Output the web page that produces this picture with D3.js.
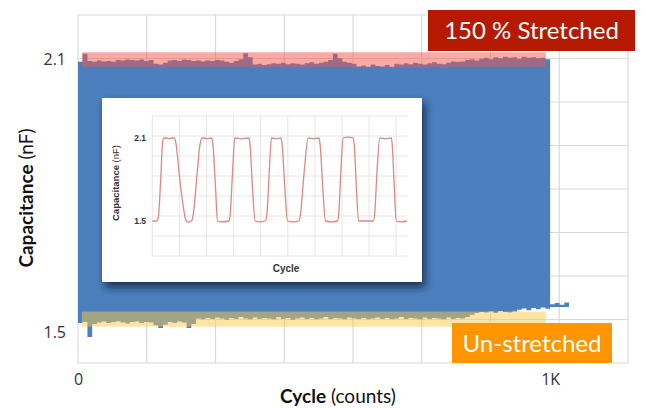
<!DOCTYPE html>
<html><head><meta charset="utf-8">
<script src="https://cdn.jsdelivr.net/npm/d3@7"></script>
<style>body{margin:0;background:#fff;} svg{display:block}</style>
</head><body>
<svg id="chart" width="646" height="408"></svg>
<script>
// ---------- DATA ----------
// Envelope of the rapidly oscillating capacitance signal, sampled every 10 cycles
const cycleStep = 10;
const upperEnvelope = [
 2.094,2.112,2.096,2.094,2.097,2.095,2.096,2.094,2.098,2.097,
 2.099,2.098,2.097,2.099,2.096,2.098,2.090,2.088,2.092,2.097,
 2.098,2.096,2.099,2.098,2.096,2.097,2.095,2.097,2.096,2.098,
 2.097,2.094,2.092,2.096,2.100,2.113,2.104,2.088,2.090,2.087,
 2.089,2.091,2.090,2.092,2.089,2.091,2.090,2.088,2.091,2.093,
 2.090,2.092,2.094,2.098,2.112,2.102,2.094,2.092,2.090,2.084,
 2.086,2.083,2.088,2.085,2.084,2.087,2.083,2.090,2.088,2.091,
 2.089,2.092,2.090,2.088,2.091,2.093,2.090,2.089,2.092,2.095,
 2.094,2.095,2.098,2.100,2.097,2.101,2.103,2.100,2.104,2.102,
 2.105,2.103,2.104,2.101,2.105,2.103,2.104,2.102,2.103,2.100,
 1.561,1.564,1.560,1.565,1.561
];
const lowerEnvelope = [
 1.520,1.522,1.489,1.518,1.521,1.523,1.520,1.522,1.524,1.521,
 1.519,1.522,1.523,1.520,1.522,1.521,1.515,1.509,1.516,1.522,
 1.520,1.523,1.521,1.509,1.518,
 1.530,1.528,1.531,1.529,1.532,1.530,1.527,1.531,1.529,1.533,
 1.530,1.528,1.532,1.529,1.531,1.530,1.528,1.533,1.529,1.531,
 1.527,1.530,1.532,1.529,1.531,1.528,1.530,1.533,1.529,1.531,
 1.530,1.528,1.532,1.530,1.529,1.531,1.528,1.530,1.532,1.529,
 1.531,1.528,1.530,1.533,1.529,1.531,1.530,1.528,1.532,1.529,
 1.531,1.530,1.528,1.532,1.529,1.531,1.530,1.533,1.538,
 1.542,1.544,1.543,1.545,1.542,1.546,1.544,1.543,1.545,
 1.549,1.552,1.548,1.553,1.550,1.554,1.551,
 1.555,1.555,1.555,1.555,1.555
];
// highlighted bands
const bandNames = ["150 % Stretched", "Un-stretched"];
const bandStart = [8, 8];
const bandEnd = [991, 991];
const bandLow = [2.082, 1.512];
const bandHigh = [2.115, 1.545];
// main axis ticks
const yTickValues = [1.5, 2.1];
const yTickLabels = ["1.5", "2.1"];
const xTickValues = [0, 1000];
const xTickLabels = ["0", "1K"];
// inset: a few stretch cycles
const insetTime = [0,1.7,2.3,3.3,4.0,4.5,5.6,6.5,7.6,8.6,9.2,10.8,12.2,13.1,14.1,15.4,16.1,17.4,18.7,19.6,
 20.7,21.4,23.3,23.8,24.8,25.6,27.2,30.1,30.6,31.5,32.4,35,37.9,38.4,39.3,40.4,42.2,44.4,45,45.9,
 46.8,48.8,50.5,51,52,53.1,55.3,57.5,58.2,59.6,61.2,63.1,65.4,65.9,66.9,68,70.3,72.7,73.2,74,
 74.9,76.9,78.8,79.3,80.1,81,84,86.7,87.3,88.2,89.3,91.5,93.9,94.2,95,95.8,97.8,100];
const insetCap = [1.5,1.5,1.52,1.8,2.06,2.1,2.1,2.094,2.1,2.1,2.07,1.8,1.6,1.51,1.492,1.5,1.55,1.8,2.05,2.1,
 2.1,2.094,2.1,2.05,1.75,1.5,1.494,1.5,1.55,1.85,2.1,2.094,2.1,2.05,1.75,1.5,1.494,1.5,1.55,1.85,
 2.1,2.094,2.1,2.05,1.75,1.5,1.494,1.5,1.55,1.85,2.1,2.094,2.1,2.05,1.75,1.5,1.494,1.5,1.55,1.85,
 2.1,2.106,2.1,2.05,1.75,1.5,1.5,1.5,1.55,1.85,2.1,2.094,2.1,2.05,1.75,1.5,1.494,1.5];
const insetTickValues = [1.5, 2.1];
const insetTickLabels = ["1.5", "2.1"];

// ---------- DRAW ----------
const svg = d3.select("#chart");
const defs = svg.append("defs");
const f = defs.append("filter").attr("id","sh").attr("x","-20%").attr("y","-20%").attr("width","150%").attr("height","150%");
f.append("feDropShadow").attr("dx",3).attr("dy",5).attr("stdDeviation",4.5)
 .attr("flood-color","#0b1a3a").attr("flood-opacity",0.85);

const x = d3.scaleLinear().domain([0, 1165]).range([78, 628]);
const y = d3.scaleLinear().domain([1.432, 2.197]).range([363, 15]);
const [xLeft, xRight] = x.range(), [yBottom, yTop] = y.range();
const gridFr = d3.range(9).map(k => k / 8);

const grid = svg.append("g").attr("stroke", "#dadada").attr("stroke-width", 1.2);
grid.selectAll(".gv").data(gridFr).join("line")
  .attr("x1", d => xLeft + (xRight - xLeft) * d).attr("x2", d => xLeft + (xRight - xLeft) * d)
  .attr("y1", yTop).attr("y2", yBottom);
grid.selectAll(".gh").data(gridFr).join("line")
  .attr("y1", d => yTop + (yBottom - yTop) * d).attr("y2", d => yTop + (yBottom - yTop) * d)
  .attr("x1", xLeft).attr("x2", xRight);

const area = d3.area()
  .x((d, i) => x(i * cycleStep))
  .y0((d, i) => y(lowerEnvelope[i]))
  .y1(d => y(d))
  .curve(d3.curveStepAfter);
svg.append("path").datum(upperEnvelope).attr("d", area).attr("fill", "#4c7fbd");

const bandColors = ["#f5554b", "#f9c94b"];
svg.append("g").selectAll("rect").data(bandNames).join("rect")
  .attr("x", (d, i) => x(bandStart[i]))
  .attr("width", (d, i) => x(bandEnd[i]) - x(bandStart[i]))
  .attr("y", (d, i) => y(bandHigh[i]))
  .attr("height", (d, i) => y(bandLow[i]) - y(bandHigh[i]))
  .attr("fill", (d, i) => bandColors[i]).attr("opacity", 0.5);

// ----- inset -----
const inset = svg.append("g");
inset.append("rect").attr("x", 102).attr("y", 98).attr("width", 320).attr("height", 184)
  .attr("fill", "#fff").attr("filter", "url(#sh)");
const ix = d3.scaleLinear().domain([0, 100]).range([152.3, 407]);
const iy = d3.scaleLinear().domain([1.247, 2.259]).range([256, 116]);
const ig = inset.append("g").attr("stroke", "#e6e6e6").attr("stroke-width", 1);
ig.selectAll(".v").data(d3.range(0, 100, 10.64)).join("line")
  .attr("x1", d => ix(d)).attr("x2", d => ix(d)).attr("y1", 116).attr("y2", 256);
ig.selectAll(".h").data(d3.range(8).map(k => k / 7)).join("line")
  .attr("y1", d => 116 + 140 * d).attr("y2", d => 116 + 140 * d).attr("x1", 152).attr("x2", 407);
const iline = d3.line().x((d, i) => ix(insetTime[i])).y(d => iy(d)).curve(d3.curveMonotoneX);
inset.append("path").datum(insetCap).attr("d", iline).attr("fill", "none")
  .attr("stroke", "#d98a84").attr("stroke-width", 1.3);
inset.append("g").selectAll("text").data(insetTickValues).join("text")
  .attr("x", 146).attr("y", d => iy(d)).attr("dy", "0.35em").attr("text-anchor", "end")
  .attr("font-family", "Liberation Sans, Arial, sans-serif").attr("font-weight", "bold")
  .attr("font-size", 8.5).attr("fill", "#333").text((d, i) => insetTickLabels[i]);
const iyt = inset.append("text").attr("transform", "translate(119,183) rotate(-90)")
  .attr("text-anchor", "middle").attr("font-family", "Liberation Sans, Arial, sans-serif")
  .attr("font-size", 9.5).attr("fill", "#333");
iyt.append("tspan").attr("font-weight", "bold").text("Capacitance");
iyt.append("tspan").text(" (nF)");
inset.append("text").attr("x", 286).attr("y", 268).attr("dy", "0.35em").attr("text-anchor", "middle")
  .attr("font-family", "Liberation Sans, Arial, sans-serif").attr("font-weight", "bold")
  .attr("font-size", 10).attr("fill", "#333").text("Cycle");

// ----- label boxes -----
const boxes = [
  {x: 428, y: 10, w: 207, h: 41, fill: "#b51a00"},
  {x: 452, y: 323, w: 160, h: 40, fill: "#ff9500"}
];
const lb = svg.append("g").selectAll("g").data(bandNames).join("g");
lb.append("rect").attr("x", (d, i) => boxes[i].x).attr("y", (d, i) => boxes[i].y)
  .attr("width", (d, i) => boxes[i].w).attr("height", (d, i) => boxes[i].h)
  .attr("fill", (d, i) => boxes[i].fill);
lb.append("text").attr("x", (d, i) => boxes[i].x + boxes[i].w / 2)
  .attr("y", (d, i) => boxes[i].y + boxes[i].h / 2).attr("dy", "0.36em")
  .attr("text-anchor", "middle").attr("font-family", "Lato, sans-serif")
  .attr("font-size", 24).attr("fill", "#fff").text(d => d);

// ----- axes -----
const yAxis = svg.append("g").attr("transform", `translate(${xLeft},0)`)
  .call(d3.axisLeft(y).tickValues(yTickValues).tickFormat((d, i) => yTickLabels[i]).tickSize(0).tickPadding(12));
const xAxis = svg.append("g").attr("transform", `translate(0,${yBottom})`)
  .call(d3.axisBottom(x).tickValues(xTickValues).tickFormat((d, i) => xTickLabels[i]).tickSize(0).tickPadding(11));
[yAxis, xAxis].forEach(a => {
  a.select(".domain").remove();
  a.selectAll("text").attr("font-family", "Open Sans, sans-serif").attr("font-size", 16).attr("fill", "#333");
});

const yt = svg.append("text").attr("transform", "translate(33,198) rotate(-90)")
  .attr("text-anchor", "middle").attr("font-family", "Lato, sans-serif")
  .attr("font-size", 19).attr("fill", "#111");
yt.append("tspan").attr("font-weight", "bold").text("Capacitance");
yt.append("tspan").text(" (nF)");
const xt = svg.append("text").attr("x", 338).attr("y", 403)
  .attr("text-anchor", "middle").attr("font-family", "Lato, sans-serif")
  .attr("font-size", 19).attr("fill", "#111");
xt.append("tspan").attr("font-weight", "bold").text("Cycle");
xt.append("tspan").text(" (counts)");
</script>
</body></html>
